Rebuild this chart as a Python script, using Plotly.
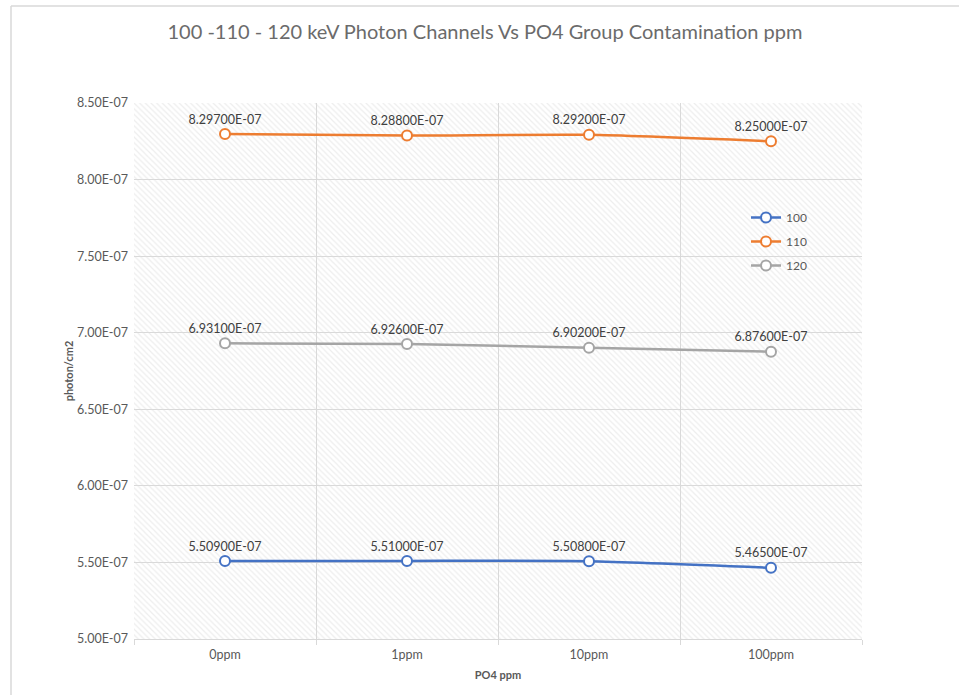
import plotly.graph_objects as go

categories = ["0ppm", "1ppm", "10ppm", "100ppm"]
series_names = ["100", "110", "120"]
ch_100 = [5.509e-07, 5.510e-07, 5.508e-07, 5.465e-07]
ch_110 = [8.297e-07, 8.288e-07, 8.292e-07, 8.250e-07]
ch_120 = [6.931e-07, 6.926e-07, 6.902e-07, 6.876e-07]
y_ticks = [5.0e-07, 5.5e-07, 6.0e-07, 6.5e-07, 7.0e-07, 7.5e-07, 8.0e-07, 8.5e-07]
y_tick_labels = ["5.00E-07", "5.50E-07", "6.00E-07", "6.50E-07",
                 "7.00E-07", "7.50E-07", "8.00E-07", "8.50E-07"]

colors = ["#4472C4", "#ED7D31", "#A5A5A5"]
FONT = "Lato"
W, H = 959, 695
L, R, T, B = 134, 97, 103, 56
pw, ph = W - L - R, H - T - B


def px_x(x):
    return (x - L) / pw


def px_y(y):
    return (H - B - y) / ph


fig = go.Figure()

# hatched plot-area background
fig.add_trace(
    go.Bar(
        x=categories,
        y=[y_ticks[-1] - y_ticks[0]] * len(categories),
        base=y_ticks[0],
        width=1,
        marker=dict(
            color="rgba(255,255,255,0)",
            line=dict(width=0),
            pattern=dict(shape="\\", fgcolor="#dcdcdc", size=4, solidity=0.3),
        ),
        showlegend=False,
        hoverinfo="skip",
    )
)

for i, (name, vals) in enumerate(zip(series_names, [ch_100, ch_110, ch_120])):
    fig.add_trace(
        go.Scatter(
            x=categories,
            y=vals,
            mode="lines+markers+text",
            name=name,
            legendgroup=name,
            line=dict(color=colors[i], width=2.5, shape="spline", smoothing=0.6),
            marker=dict(size=10, color="white", line=dict(color=colors[i], width=2)),
            text=[f"{v:.5E}" for v in vals],
            textposition="top center",
            textfont=dict(family=FONT, size=12.5, color="#404040"),
        )
    )

fig.update_layout(
    width=W,
    height=H,
    margin=dict(l=L, r=R, t=T, b=B),
    paper_bgcolor="white",
    plot_bgcolor="white",
    font=dict(family=FONT, color="#595959"),
    title=dict(
        text="100 -110 - 120 keV Photon Channels Vs PO4 Group Contamination ppm",
        font=dict(family=FONT, size=20, color="#6b6b6b"),
        xref="container",
        x=485 / W,
        xanchor="center",
        yref="container",
        y=1 - 32 / H,
        yanchor="middle",
    ),
    showlegend=True,
    legend=dict(
        x=px_x(746),
        y=px_y(203),
        xanchor="left",
        yanchor="top",
        bgcolor="rgba(0,0,0,0)",
        font=dict(family=FONT, size=12, color="#595959"),
        tracegroupgap=5,
        itemwidth=30,
    ),
    bargap=0,
    xaxis=dict(
        type="category",
        range=[-0.5, len(categories) - 0.5],
        tickson="boundaries",
        ticks="outside",
        ticklen=5,
        tickcolor="#d9d9d9",
        ticklabelstandoff=4,
        showgrid=True,
        gridcolor="#d9d9d9",
        gridwidth=1,
        showline=True,
        linecolor="#d9d9d9",
        linewidth=1,
        tickfont=dict(family=FONT, size=12.5, color="#595959"),
        title=dict(text="<b>PO4 ppm</b>", font=dict(family=FONT, size=11, color="#595959"),
                   standoff=10),
        fixedrange=True,
    ),
    yaxis=dict(
        range=[y_ticks[0], y_ticks[-1]],
        tickvals=y_ticks,
        ticktext=y_tick_labels,
        showgrid=True,
        gridcolor="#d9d9d9",
        gridwidth=1,
        zeroline=False,
        showline=False,
        ticks="",
        ticklabelstandoff=5,
        tickfont=dict(family=FONT, size=12.5, color="#595959"),
        title=dict(text="<b>photon/cm2</b>", font=dict(family=FONT, size=11, color="#595959"),
                   standoff=1),
        fixedrange=True,
    ),
)

# outer chart frame (top and left edges visible in the reference)
frame = dict(type="line", xref="paper", yref="paper", line=dict(color="#d9d9d9", width=1.5))
fig.add_shape(x0=px_x(11), x1=px_x(W), y0=px_y(6), y1=px_y(6), **frame)
fig.add_shape(x0=px_x(11), x1=px_x(11), y0=px_y(6), y1=px_y(H), **frame)

fig.write_html(
    "out.html",
    config={"displayModeBar": False},
    post_script="document.body.style.margin='0';",
)
